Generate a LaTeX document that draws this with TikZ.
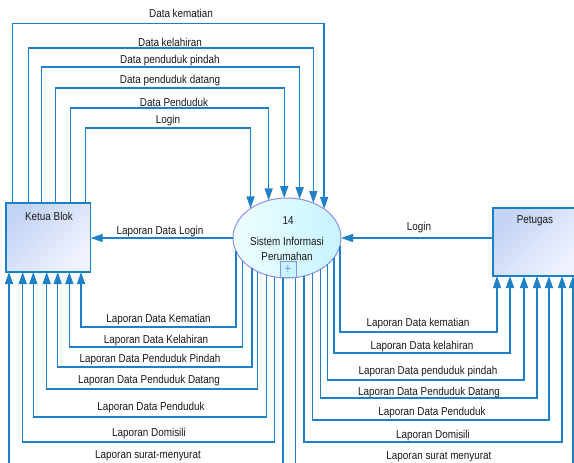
\documentclass[tikz,border=0pt]{standalone}
\usepackage{fontspec}
\setmainfont{Liberation Sans}[FakeStretch=0.86]
\usetikzlibrary{arrows.meta,shapes.geometric}
\definecolor{flowc}{RGB}{30,128,200}
\definecolor{boxA}{RGB}{196,212,246}
\definecolor{boxB}{RGB}{240,243,253}
\definecolor{boxline}{RGB}{20,130,200}
\definecolor{ellA}{RGB}{238,254,255}
\definecolor{ellB}{RGB}{198,244,255}
\definecolor{elline}{RGB}{140,140,240}
\definecolor{txt}{RGB}{25,25,25}
\begin{document}
\begin{tikzpicture}[x=1pt,y=-1pt,
  flow/.style={draw=flowc, line width=1.4pt},
  flowin/.style={flow, -{Triangle[length=12pt,width=8pt]}},
  entity/.style={rectangle, draw=boxline, line width=1.2pt, outer sep=0pt, inner sep=0pt,
    left color=boxA, right color=boxB, shading angle=45},
  lbl/.style={font=\fontsize{11.5}{13}\selectfont, text=txt, inner sep=0pt},
]
\useasboundingbox (0,0) rectangle (574,463);
\clip (0,0) rectangle (574,463);
% entities
\node[entity, minimum width=84.7pt, minimum height=69pt] (ketua) at (48.35,237.5) {};
\node[lbl] (ketuat) at (49,216) {Ketua Blok};
\node[entity, minimum width=90pt, minimum height=68pt] (petugas) at (538,242) {};
\node[lbl] (petugast) at (535,221) {Petugas};
% process
\node[ellipse, draw=elline, line width=1pt, outer sep=0pt, inner sep=0pt,
  minimum width=108pt, minimum height=80pt, left color=ellA, right color=ellB] (e) at (287,238) {};
\node[lbl] (e1) at (288,221) {14};
\node[lbl] (e2) at (287,241) {Sistem Informasi};
\node[lbl] (e3) at (287,256) {Perumahan};
\node[draw=elline, line width=0.8pt, fill=ellB, minimum width=16pt, minimum height=16pt,
  inner sep=0pt, text=elline, font=\fontsize{14}{14}\selectfont] (plus) at (288,269) {+};
% top flows Ketua -> process
\draw[flowin] (ketua.north -| 12.7,0) |- (e.38.2 |- 0,23.7) -- (e.38.2);
\draw[flowin] (ketua.north -| 28.7,0) |- (e.53.4 |- 0,48) -- (e.53.4);
\draw[flowin] (ketua.north -| 41.7,0) |- (e.72.9 |- 0,67) -- (e.72.9);
\draw[flowin] (ketua.north -| 55.7,0) |- (e.94.3 |- 0,88) -- (e.94.3);
\draw[flowin] (ketua.north -| 70.7,0) |- (e.116.9 |- 0,108) -- (e.116.9);
\draw[flowin] (ketua.north -| 85.7,0) |- (e.141.8 |- 0,128) -- (e.141.8);
% middle flows
\draw[flowin] (e.west) -- (e.west -| ketua.east);
\draw[flowin] (petugas.west |- e.east) -- (e.east);
% bottom-left flows process -> Ketua
\draw[flowin] (e.194.4) -- (e.194.4 |- 0,327) -| (ketua.south -| 81,0);
\draw[flowin] (e.207.8) -- (e.207.8 |- 0,347) -| (ketua.south -| 69.3,0);
\draw[flowin] (e.221.1) -- (e.221.1 |- 0,367) -| (ketua.south -| 57.7,0);
\draw[flowin] (e.229.3) -- (e.229.3 |- 0,389) -| (ketua.south -| 46.7,0);
\draw[flowin] (e.241.7) -- (e.241.7 |- 0,417) -| (ketua.south -| 33.3,0);
\draw[flowin] (e.252.9) -- (e.252.9 |- 0,442) -| (ketua.south -| 22.7,0);
\draw[flowin] (e.264.3) -- (e.264.3 |- 0,470) -| (ketua.south -| 9,0);
% bottom-right flows process -> Petugas
\draw[flowin] (e.351.8) -- (e.351.8 |- 0,332) -| (petugas.south -| 497,0);
\draw[flowin] (e.337.3) -- (e.337.3 |- 0,353) -| (petugas.south -| 510,0);
\draw[flowin] (e.327.6) -- (e.327.6 |- 0,380) -| (petugas.south -| 524,0);
\draw[flowin] (e.317.6) -- (e.317.6 |- 0,398) -| (petugas.south -| 537,0);
\draw[flowin] (e.306.6) -- (e.306.6 |- 0,420) -| (petugas.south -| 549,0);
\draw[flowin] (e.294.1) -- (e.294.1 |- 0,442) -| (petugas.south -| 562,0);
\draw[flowin] (e.282.9) -- (e.282.9 |- 0,470) -| (petugas.south -| 573,0);
% labels
\node[lbl] (t1) at (181,13.5) {Data kematian};
\node[lbl] (t2) at (170,42) {Data kelahiran};
\node[lbl] (t3) at (170,61) {Data penduduk pindah};
\node[lbl] (t4) at (170,81) {Data penduduk datang};
\node[lbl] (t5) at (174,102) {Data Penduduk};
\node[lbl] (t6) at (168,121) {Login};
\node[lbl] (m1) at (160,232) {Laporan Data Login};
\node[lbl] (m2) at (419,228) {Login};
\node[lbl] (l1) at (158.5,320) {Laporan Data Kematian};
\node[lbl] (l2) at (156,341) {Laporan Data Kelahiran};
\node[lbl] (l3) at (150,360) {Laporan Data Penduduk Pindah};
\node[lbl] (l4) at (149,381) {Laporan Data Penduduk Datang};
\node[lbl] (l5) at (151,408) {Laporan Data Penduduk};
\node[lbl] (l6) at (149,434) {Laporan Domisili};
\node[lbl] (l7) at (148,456) {Laporan surat-menyurat};
\node[lbl] (r1) at (418,324) {Laporan Data kematian};
\node[lbl] (r2) at (422,347) {Laporan Data kelahiran};
\node[lbl] (r3) at (428,372) {Laporan Data penduduk pindah};
\node[lbl] (r4) at (429,393) {Laporan Data Penduduk Datang};
\node[lbl] (r5) at (432,413) {Laporan Data Penduduk};
\node[lbl] (r6) at (433,436) {Laporan Domisili};
\node[lbl] (r7) at (439,457) {Laporan surat menyurat};
\end{tikzpicture}
\end{document}
